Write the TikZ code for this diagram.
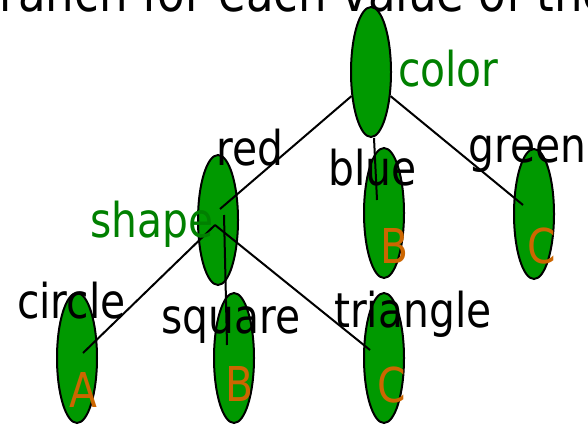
\documentclass[tikz,border=0pt]{standalone}
\usepackage{fontspec}
\setmainfont{DejaVu Sans}[FakeStretch=0.85]
\usetikzlibrary{shapes.geometric,calc}
\definecolor{nodegreen}{RGB}{0,153,0}
\definecolor{attrgreen}{RGB}{0,128,0}
\definecolor{leaforange}{RGB}{204,102,0}
\tikzset{
  blob/.style={ellipse, draw=black, fill=nodegreen, line width=2pt,
    minimum width=40pt, minimum height=130pt, inner sep=0pt},
  edge/.style={draw=black, line width=2pt},
  lbl/.style={anchor=base west, inner sep=0pt, text=black,
    font=\fontsize{48}{50}\selectfont},
  attr/.style={lbl, text=attrgreen},
  cls/.style={lbl, text=leaforange},
}
\begin{document}
\begin{tikzpicture}[x=1pt,y=-1pt]
\useasboundingbox (0,0) rectangle (588,425);
% clipped title
\node[lbl, font=\fontsize{53}{55}\selectfont] (title) at (-29,12) {branch for each value of the};
% ellipses
\node[blob] (color) at (371,72) {};
\node[blob] (shape) at (218,220) {};
\node[blob] (blueB) at (384,213) {};
\node[blob] (greenC) at (534,214) {};
\node[blob] (leafA) at (77,358) {};
\node[blob] (leafB) at (234,358) {};
\node[blob] (leafC) at (384,358) {};
% connectors
\draw[edge] (color.231) -- ($(shape.center)+(2,-11)$);
\draw[edge] ($(color.south)+(3,0)$) -- ($(blueB.center)+(-7,-13)$);
\draw[edge] (color.309) -- ($(greenC.center)+(-11,-9)$);
\draw[edge] ($(shape.center)+(-3,5)$) -- ($(leafA.center)+(6,-5)$);
\draw[edge] ($(shape.center)+(6,-5)$) -- ($(leafB.center)+(-7,-13)$);
\draw[edge] ($(shape.center)+(-3,5)$) -- ($(leafC.center)+(-14,-8)$);
% labels
\node[attr] (tcolor) at (398,87) {color};
\node[attr] (tshape) at (90,237) {shape};
\node[lbl] (tred) at (216,165) {red};
\node[lbl] (tblue) at (328,185) {blue};
\node[lbl] (tgreen) at (468,162) {green};
\node[lbl] (tcircle) at (17,318) {circle};
\node[lbl] (tsquare) at (161,333) {square};
\node[lbl] (ttriangle) at (334,327) {triangle};
\node[cls] (cB1) at (380,263) {B};
\node[cls] (cC1) at (527,263) {C};
\node[cls] (cA) at (69,407) {A};
\node[cls] (cB2) at (225,401) {B};
\node[cls] (cC2) at (377,402) {C};
\end{tikzpicture}
\end{document}
